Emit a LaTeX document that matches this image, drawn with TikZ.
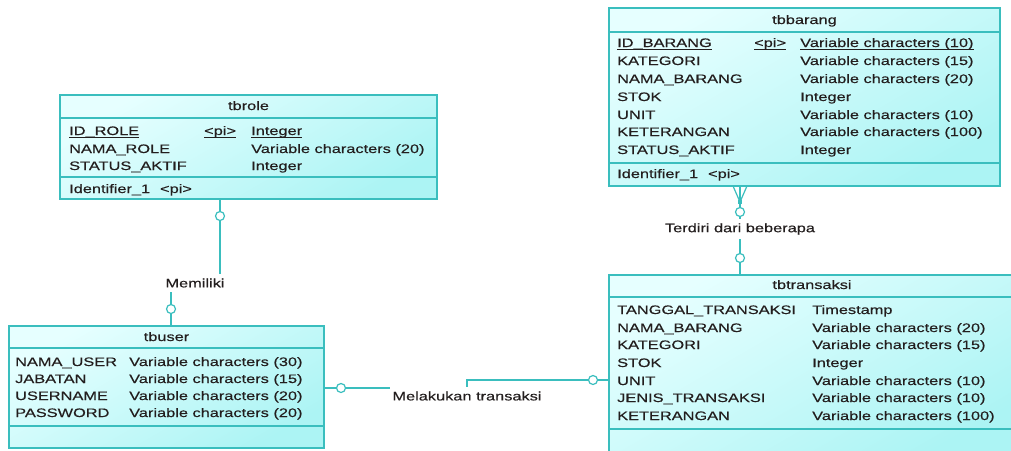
\documentclass[tikz,border=0pt]{standalone}
\usepackage{fontspec}
\setmainfont[FakeStretch=1.33,FakeBold=0.4]{Liberation Sans}
\definecolor{lc}{RGB}{58,190,190}
\definecolor{ftop}{RGB}{230,255,255}
\definecolor{fbot}{RGB}{172,244,244}
\definecolor{tc}{RGB}{35,30,30}
\newcommand\myul[1]{\setbox0\hbox{#1}\rlap{\rule[-3pt]{\wd0}{0.8pt}}#1}
\newcommand\erfont{\fontsize{12.3}{14}\selectfont}
\begin{document}
\begin{tikzpicture}[x=1pt,y=-1pt,
  tbl/.style={draw=lc,line width=1.4pt,top color=ftop,bottom color=fbot,shading angle=30,
    anchor=north west,inner sep=0pt,outer sep=0pt},
  sepl/.style={draw=lc,line width=1.4pt},
  txt/.style={anchor=base west,inner sep=0pt,text=tc,font=\erfont},
  ttl/.style={anchor=base,inner sep=0pt,text=tc,font=\erfont},
  conn/.style={draw=lc,line width=1.4pt},
  ring/.style={circle,draw=lc,fill=white,line width=1.2pt,minimum size=9pt,inner sep=0pt},
  lbl/.style={fill=white,inner xsep=2pt,inner ysep=4pt,text=tc,font=\erfont}]
\useasboundingbox (0,0) rectangle (1011,450);
\clip (0,0) rectangle (1011,450);

% ---------- tbrole ----------
\node[tbl,minimum width=377pt,minimum height=104pt] (tbrole) at (60,95) {};
\draw[sepl] ([yshift=-23pt]tbrole.north west) -- ([yshift=-23pt]tbrole.north east);
\draw[sepl] ([yshift=-82pt]tbrole.north west) -- ([yshift=-82pt]tbrole.north east);
\node[ttl] (tbroleT) at (248.5,110) {tbrole};
\node[txt] (r1a) at (69,135) {\myul{ID\_ROLE}};
\node[txt] (r1b) at (204,135) {\myul{<pi>}};
\node[txt] (r1c) at (251,135) {\myul{Integer}};
\node[txt] (r2a) at (69,153) {NAMA\_ROLE};
\node[txt] (r2c) at (251,153) {Variable characters (20)};
\node[txt] (r3a) at (69,170) {STATUS\_AKTIF};
\node[txt] (r3c) at (251,170) {Integer};
\node[txt] (r4a) at (69,193) {Identifier\_1\hspace{10pt}<pi>};

% ---------- tbuser ----------
\node[tbl,minimum width=315pt,minimum height=122pt] (tbuser) at (9,326) {};
\draw[sepl] ([yshift=-22pt]tbuser.north west) -- ([yshift=-22pt]tbuser.north east);
\draw[sepl] ([yshift=-100pt]tbuser.north west) -- ([yshift=-100pt]tbuser.north east);
\node[ttl] (tbuserT) at (166.5,341) {tbuser};
\node[txt] (u1a) at (15,366) {NAMA\_USER};
\node[txt] (u1c) at (129,366) {Variable characters (30)};
\node[txt] (u2a) at (15,383) {JABATAN};
\node[txt] (u2c) at (129,383) {Variable characters (15)};
\node[txt] (u3a) at (15,400) {USERNAME};
\node[txt] (u3c) at (129,400) {Variable characters (20)};
\node[txt] (u4a) at (15,417) {PASSWORD};
\node[txt] (u4c) at (129,417) {Variable characters (20)};

% ---------- tbbarang ----------
\node[tbl,minimum width=391pt,minimum height=178pt] (tbbarang) at (609,8) {};
\draw[sepl] ([yshift=-24pt]tbbarang.north west) -- ([yshift=-24pt]tbbarang.north east);
\draw[sepl] ([yshift=-155pt]tbbarang.north west) -- ([yshift=-155pt]tbbarang.north east);
\node[ttl] (tbbarangT) at (804.5,24) {tbbarang};
\node[txt] (b1a) at (617,47) {\myul{ID\_BARANG}};
\node[txt] (b1b) at (754,47) {\myul{<pi>}};
\node[txt] (b1c) at (800,47) {\myul{Variable characters (10)}};
\node[txt] (b2a) at (617,65) {KATEGORI};
\node[txt] (b2c) at (800,65) {Variable characters (15)};
\node[txt] (b3a) at (617,83) {NAMA\_BARANG};
\node[txt] (b3c) at (800,83) {Variable characters (20)};
\node[txt] (b4a) at (617,101) {STOK};
\node[txt] (b4c) at (800,101) {Integer};
\node[txt] (b5a) at (617,119) {UNIT};
\node[txt] (b5c) at (800,119) {Variable characters (10)};
\node[txt] (b6a) at (617,136) {KETERANGAN};
\node[txt] (b6c) at (800,136) {Variable characters (100)};
\node[txt] (b7a) at (617,154) {STATUS\_AKTIF};
\node[txt] (b7c) at (800,154) {Integer};
\node[txt] (b8a) at (617,178) {Identifier\_1\hspace{10pt}<pi>};

% ---------- tbtransaksi ----------
\node[tbl,minimum width=406pt,minimum height=185pt] (tbtrans) at (609,275) {};
\draw[sepl] ([yshift=-22pt]tbtrans.north west) -- ([yshift=-22pt]tbtrans.north east);
\draw[sepl] ([yshift=-154pt]tbtrans.north west) -- ([yshift=-154pt]tbtrans.north east);
\node[ttl] (tbtransT) at (812,289) {tbtransaksi};
\node[txt] (t1a) at (617,314) {TANGGAL\_TRANSAKSI};
\node[txt] (t1c) at (812,314) {Timestamp};
\node[txt] (t2a) at (617,332) {NAMA\_BARANG};
\node[txt] (t2c) at (812,332) {Variable characters (20)};
\node[txt] (t3a) at (617,349) {KATEGORI};
\node[txt] (t3c) at (812,349) {Variable characters (15)};
\node[txt] (t4a) at (617,367) {STOK};
\node[txt] (t4c) at (812,367) {Integer};
\node[txt] (t5a) at (617,385) {UNIT};
\node[txt] (t5c) at (812,385) {Variable characters (10)};
\node[txt] (t6a) at (617,402) {JENIS\_TRANSAKSI};
\node[txt] (t6c) at (812,402) {Variable characters (10)};
\node[txt] (t7a) at (617,420) {KETERANGAN};
\node[txt] (t7c) at (812,420) {Variable characters (100)};

% ---------- connectors ----------
\coordinate (m1) at (195,283);
\draw[conn] ([xshift=160pt]tbrole.south west) |- (m1) -| ([xshift=162pt]tbuser.north west);
\node[lbl] (lm1) at (m1) {Memiliki};
\node[ring] (c1) at (220,216) {};
\node[ring] (c2) at (171,309) {};

\coordinate (m2a) at (467,388);
\coordinate (m2b) at (467,380);
\draw[conn] ([yshift=-62pt]tbuser.north east) -- (m2a) -- (m2b) -- ([yshift=-105pt]tbtrans.north west);
\node[lbl] (lm2) at (467,396) {Melakukan transaksi};
\node[ring] (c3) at (341,388) {};
\node[ring] (c4) at (593,380) {};

\coordinate (cf) at (740,202);
\draw[conn] ([xshift=131pt]tbbarang.south west) -- ([xshift=131pt]tbtrans.north west);
\draw[conn,line width=1.2pt] ([xshift=124pt]tbbarang.south west) -- (cf) -- ([xshift=138pt]tbbarang.south west);
\fill[lc] ([shift={(-2pt,-2pt)}]cf) rectangle ([shift={(2pt,2pt)}]cf);
\node[lbl] (lm3) at (740,229) {Terdiri dari beberapa};
\node[ring] (c5) at (740,212) {};
\node[ring] (c6) at (740,258) {};
\end{tikzpicture}
\end{document}
